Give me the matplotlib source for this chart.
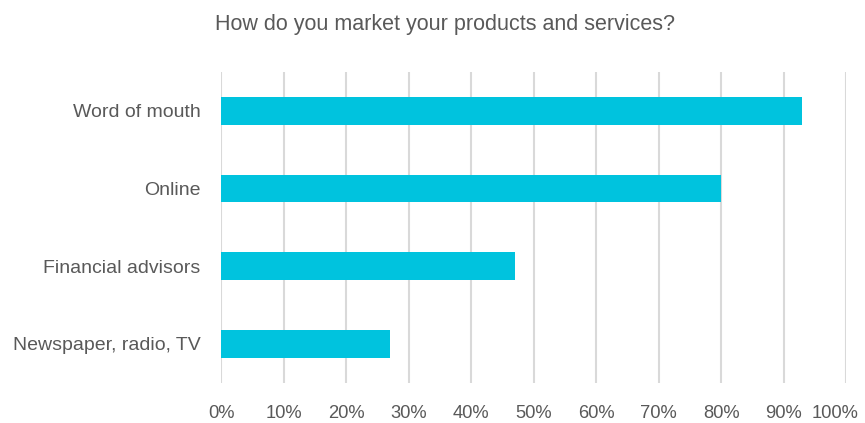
import matplotlib.pyplot as plt
import matplotlib.font_manager as fm
import matplotlib.transforms as mtransforms
import numpy as np

categories = ['Word of mouth', 'Online', 'Financial advisors', 'Newspaper, radio, TV']
shares = [93, 80, 47, 27]  # percent of respondents
ticks = [0, 10, 20, 30, 40, 50, 60, 70, 80, 90, 100]

names = {f.name for f in fm.fontManager.ttflist}
fam = 'Liberation Sans Narrow' if 'Liberation Sans Narrow' in names else 'Liberation Sans'
plt.rcParams['font.family'] = [fam, 'DejaVu Sans']

text_col = '#595959'
bar_col = '#00C3DE'

fig = plt.figure(figsize=(8.65, 4.23), dpi=100)
ax = fig.add_axes([0.256, 0.0957, 0.722, 0.734])

y = np.arange(len(categories))
ax.barh(y, shares, height=0.357, color=bar_col, zorder=3)
ax.set_ylim(len(categories) - 0.5, -0.5)
ax.set_xlim(0, 100)
ax.set_xticks(ticks)
ax.set_xticklabels([f'{t}%' for t in ticks])
ax.set_yticks(y)
ax.set_yticklabels(categories)

ax.grid(axis='x', color='#d9d9d9', linewidth=1.5, zorder=0)
for s in ax.spines.values():
    s.set_visible(False)
ax.tick_params(axis='both', length=0, colors=text_col)
ax.tick_params(axis='y', pad=15, labelsize=14)
ax.tick_params(axis='x', pad=16, labelsize=13.2)

# nudge the "100%" label left so it stays inside the figure
last = ax.get_xticklabels()[-1]
last.set_transform(last.get_transform() +
                   mtransforms.ScaledTranslation(-8 / 72, 0, fig.dpi_scale_trans))

fig.text(0.515, 0.941, 'How do you market your products and services?',
         ha='center', va='center', fontsize=15.5, color=text_col)

plt.savefig('out.png', dpi=100)
